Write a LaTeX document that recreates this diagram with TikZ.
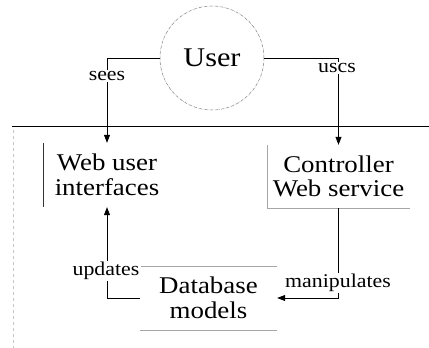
\documentclass[tikz,border=0pt]{standalone}
\usepackage{fontspec}
\setmainfont[FakeStretch=1.12]{Liberation Serif}
\usetikzlibrary{arrows.meta}
\begin{document}
\begin{tikzpicture}[x=1pt,y=-1pt,
  conn/.style={line width=0.7pt,black},
  arr/.style={conn,-{Triangle[length=8pt,width=6pt]}},
  lbl/.style={fill=white,inner sep=1.5pt,font=\fontsize{19.5}{19.5}\selectfont},
  blk/.style={rectangle,align=center,inner sep=0pt,font=\fontsize{24}{24.5}\selectfont},
  bord/.style={line width=0.6pt}
]
\useasboundingbox (0,0) rectangle (429,348);
% separator and left margin line
\draw[line width=0.6pt] (12,126) -- (429,126);
\draw[gray!45,dashed,line width=0.5pt] (13,130) -- (13,348);
% nodes
\node[circle,draw=gray,densely dashdotted,line width=0.5pt,minimum size=104pt,
      font=\fontsize{27}{27}\selectfont] (user) at (212,58) {User};
\node[blk,minimum width=128pt,minimum height=64pt] (wui) at (107,175) {Web user\\interfaces};
\node[blk,minimum width=143pt,minimum height=63pt] (ctrl) at (338.5,176.5) {Controller\\Web service};
\node[blk,minimum width=137pt,minimum height=64pt] (db) at (208.5,298) {Database\\models};
% partial borders
\draw[bord,black!80] (wui.north west) -- (wui.south west);
\draw[bord,gray!70] (ctrl.north west) -- (ctrl.south west) -- (ctrl.south east);
\draw[bord,gray!70] (db.north west) -- (db.north east);
\draw[bord,gray!70] (db.south west) -- (db.south east);
% connectors
\draw[arr] (user.west) -| (wui.north);
\draw[arr] (user.east) -| (ctrl.north);
\draw[arr] (db.west) -| (wui.south);
\draw[arr] (ctrl.south) |- (db.east);
% labels
\node[lbl] (sees) at (107,76) {sees};
\node[lbl] (uses) at (337,68) {uscs};
\node[lbl] (upd) at (106,271) {updates};
\node[lbl] (man) at (338,283) {manipulates};
\end{tikzpicture}
\end{document}
